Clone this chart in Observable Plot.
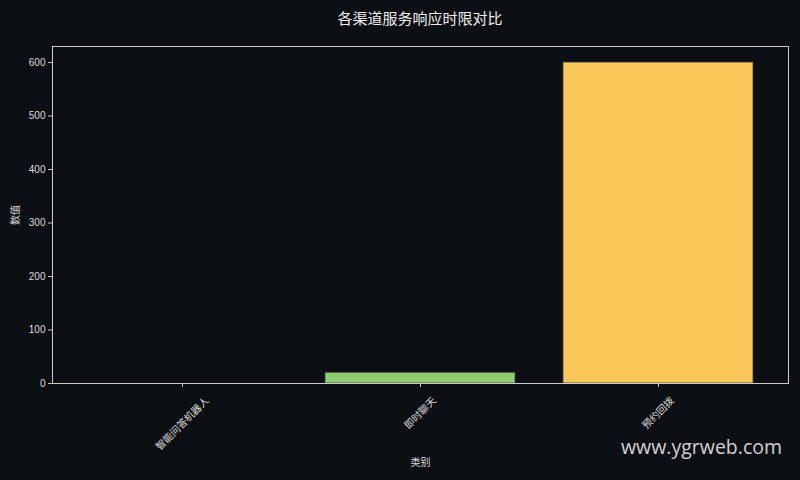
<!DOCTYPE html>
<html>
<head>
<meta charset="utf-8">
<script src="https://cdn.jsdelivr.net/npm/d3@7"></script>
<script src="https://cdn.jsdelivr.net/npm/@observablehq/plot@0.6"></script>
<style>
  html, body { margin: 0; padding: 0; background: #0c0f14; }
  #wrap { position: relative; width: 800px; height: 480px; overflow: hidden; background: #0c0f14; }
  #title { height: 36px; line-height: 36px; box-sizing: border-box; padding-left: 40px; text-align: center;
           color: #eeeeee; font-size: 15px; font-family: "Noto Sans CJK SC", "Liberation Sans", sans-serif; }
  #wm { position: absolute; left: 621px; top: 433px; color: rgba(235,235,235,0.9); font-size: 19.5px;
        font-family: "Open Sans", "Noto Sans", sans-serif; white-space: nowrap; }
</style>
</head>
<body>
<div id="wrap">
  <div id="title">各渠道服务响应时限对比</div>
  <div id="chart"></div>
  <div id="wm">www.ygrweb.com</div>
</div>
<script>
const categories = ["智能问答机器人", "即时聊天", "预约回拨"];
const values = [0, 20, 600];
const colors = ["#5470c6", "#91cc75", "#fac858"];
const yTicks = [0, 100, 200, 300, 400, 500, 600];
const yLabel = "数值";
const xLabel = "类别";

const data = categories.map((c, i) => ({cat: c, val: values[i]}));
const FS = 10;

// rotated tick labels: bounding box centred under the tick, top just below the axis
const tickLabels = categories.map(c => Plot.text([c], {
  x: d => d,
  frameAnchor: "bottom",
  rotate: -45,
  textAnchor: "middle",
  lineAnchor: "middle",
  dy: 12 + (c.length + 1) * FS * Math.SQRT1_2 / 2,
  fill: "#dddddd",
  fontSize: FS
}));

const chart = Plot.plot({
  width: 800,
  height: 444,
  marginLeft: 52,
  marginRight: 12,
  marginTop: 10,
  marginBottom: 97,
  style: {
    background: "#0c0f14",
    color: "#dddddd",
    fontSize: FS + "px",
    fontFamily: "'Liberation Sans', 'Noto Sans CJK SC', sans-serif"
  },
  x: {domain: categories, paddingInner: 0.2, paddingOuter: 0.14, align: 0.5},
  y: {domain: [0, 630]},
  color: {domain: categories, range: colors},
  marks: [
    Plot.barY(data, {x: "cat", y: "val", fill: "cat", stroke: "#3a3f3a", strokeWidth: 1, strokeOpacity: 0.8}),
    Plot.frame({stroke: "#cccccc", strokeWidth: 1}),
    Plot.axisY({ticks: yTicks, tickSize: 4, tickPadding: 3, stroke: "#cccccc", fill: "#dddddd",
                label: yLabel, labelAnchor: "center", labelArrow: "none", labelOffset: 41}),
    Plot.axisX({tickSize: 4, tickPadding: 3, stroke: "#cccccc", fill: "#dddddd", tickFormat: () => "",
                label: xLabel, labelAnchor: "center", labelArrow: "none", labelOffset: 82}),
    ...tickLabels
  ]
});
document.getElementById("chart").appendChild(chart);
</script>
</body>
</html>
